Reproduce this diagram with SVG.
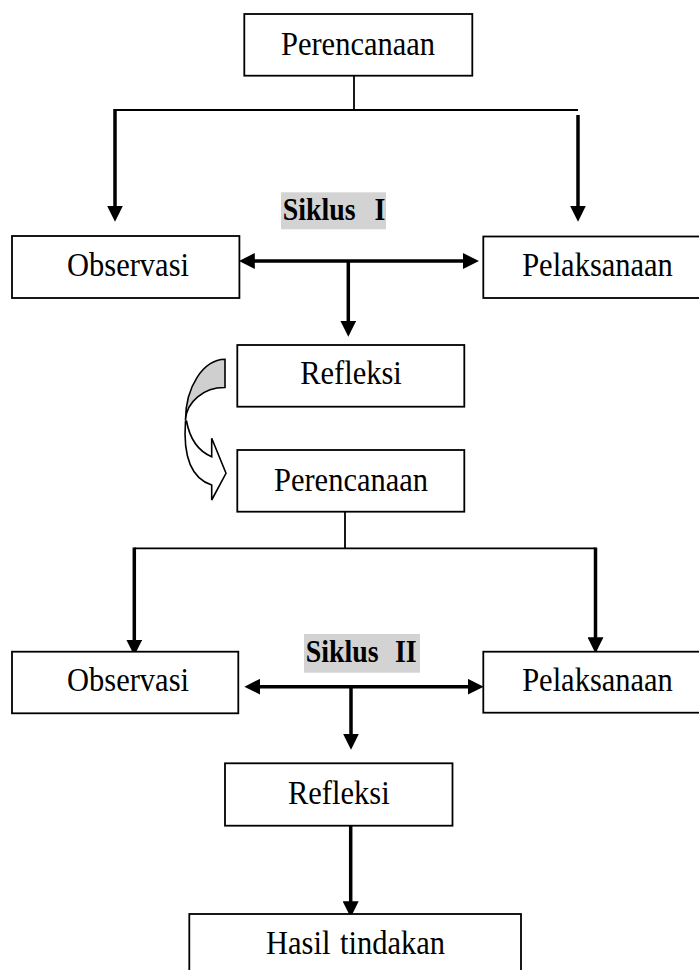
<svg xmlns="http://www.w3.org/2000/svg" width="699" height="970" viewBox="0 0 699 970">
<style>
.box{fill:#fff;stroke:#000;stroke-width:1.8}
.lbl{font-family:"Liberation Serif","Times New Roman",serif;font-size:30.5px;fill:#000;text-anchor:middle}
.sik{font-family:"Liberation Serif","Times New Roman",serif;font-size:30px;font-weight:bold;fill:#000;text-anchor:start}
.hl{fill:#d3d3d3}
.thin{fill:none;stroke:#000;stroke-width:1.8}
.thick{fill:none;stroke:#000;stroke-width:3.5}
.arr{marker-end:url(#ah)}
.dbl{marker-start:url(#ah);marker-end:url(#ah)}
</style>
<defs>
<marker id="ah" markerUnits="userSpaceOnUse" markerWidth="16" markerHeight="16" viewBox="0 0 15 15" refX="5" refY="7.5" orient="auto-start-reverse">
<path d="M0,0 L15,7.5 L0,15 Z" fill="#000"/>
</marker>
</defs>

<g id="connectors">
<path class="thin" d="M354,76 V110 M115,110 H578"/>
<line class="thick arr" x1="115" y1="109" x2="115" y2="211"/>
<line class="thick arr" x1="578" y1="115" x2="578" y2="211"/>
<line class="thick dbl" x1="249.5" y1="261" x2="468.3" y2="261"/>
<line class="thick arr" x1="348.3" y1="261" x2="348.3" y2="326"/>
<path class="thin" d="M345,511.7 V548.3 M134.3,548.3 H595.5"/>
<line class="thick arr" x1="134.3" y1="547.5" x2="134.3" y2="645"/>
<line class="thick arr" x1="595.5" y1="547.5" x2="595.5" y2="642.7"/>
<line class="thick dbl" x1="255" y1="686.7" x2="473" y2="686.7"/>
<line class="thick arr" x1="351" y1="686.7" x2="351" y2="739"/>
<line class="thick arr" x1="350.7" y1="818" x2="350.7" y2="906.7"/>
</g>

<g id="curved-arrow">
<path d="M225,359.3 A40,61 0 0 0 185.5,420 A39,34 0 0 1 225,387.5 Z" fill="#cfcfcf" stroke="#000" stroke-width="1.6"/>
<path d="M186.5,421 C190,440 198,451 211.7,456.7 L211.7,438.3 L226,473.3 L211.7,500 L211.7,485 C190,478 183,455 185.5,421 Z" fill="#fff" stroke="#000" stroke-width="1.6" stroke-linejoin="miter"/>
</g>

<g id="perencanaan1">
<rect class="box" x="244.3" y="14" width="228" height="61.7"/>
<text class="lbl" transform="translate(358,54.5) scale(1,1.08)">Perencanaan</text>
</g>

<g id="siklus1">
<rect class="hl" x="281" y="192.3" width="105" height="37"/>
<text class="sik" transform="translate(282.7,220) scale(0.93,1.06)" word-spacing="12.7">Siklus I</text>
</g>

<g id="observasi1">
<rect class="box" x="12" y="236" width="227.4" height="62"/>
<text class="lbl" transform="translate(128,275.5) scale(1,1.08)">Observasi</text>
</g>

<g id="pelaksanaan1">
<rect class="box" x="483.3" y="236.5" width="220" height="61.5"/>
<text class="lbl" transform="translate(597.5,275.5) scale(1,1.08)">Pelaksanaan</text>
</g>

<g id="refleksi1">
<rect class="box" x="237.3" y="345" width="227" height="61.7"/>
<text class="lbl" transform="translate(351,383.8) scale(1,1.08)">Refleksi</text>
</g>

<g id="perencanaan2">
<rect class="box" x="237.3" y="450" width="227" height="61.7"/>
<text class="lbl" transform="translate(351,491) scale(1,1.08)">Perencanaan</text>
</g>

<g id="siklus2">
<rect class="hl" x="304" y="634" width="116" height="38.7"/>
<text class="sik" transform="translate(305.8,661.7) scale(0.93,1.06)" word-spacing="10">Siklus II</text>
</g>

<g id="observasi2">
<rect class="box" x="12" y="651.7" width="226.3" height="61.6"/>
<text class="lbl" transform="translate(128,691) scale(1,1.08)">Observasi</text>
</g>

<g id="pelaksanaan2">
<rect class="box" x="483.3" y="651.7" width="220" height="61"/>
<text class="lbl" transform="translate(597.5,691) scale(1,1.08)">Pelaksanaan</text>
</g>

<g id="refleksi2">
<rect class="box" x="225" y="763.3" width="227.5" height="62.4"/>
<text class="lbl" transform="translate(338.8,803.5) scale(1,1.08)">Refleksi</text>
</g>

<g id="hasil">
<rect class="box" x="189.3" y="914" width="331.7" height="70"/>
<text class="lbl" transform="translate(355.5,954) scale(1,1.08)" word-spacing="2">Hasil tindakan</text>
</g>
</svg>
